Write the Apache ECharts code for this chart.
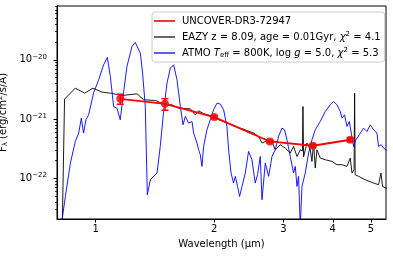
<!DOCTYPE html>
<html><head><meta charset="utf-8">
<script src="https://cdn.jsdelivr.net/npm/echarts/dist/echarts.min.js"></script>
<style>html,body{margin:0;padding:0;background:#fff}#c{width:393px;height:257px}</style>
</head><body><div id="c"></div>
<script>
// Photometry (UNCOVER-DR3-72947)
const photWave = [1.155, 1.50, 2.00, 2.77, 3.56, 4.43];
const photFlux = [2.2e-21, 1.81e-21, 1.08e-21, 4.19e-22, 3.55e-22, 4.48e-22];
const photErr  = [0.42e-21, 0.40e-21, 0.06e-21, 0.02e-21, 0.02e-21, 0.03e-21];

// EAZY template
const eazyWave = [0.822, 0.834, 0.888, 0.938, 0.985, 1.038, 1.090, 1.167, 1.274, 1.324, 1.418, 1.503, 1.563, 1.624, 1.740, 1.791, 1.826, 1.880, 1.955, 2.033, 2.155, 2.329, 2.518, 2.593, 2.645, 2.696, 2.804, 2.858, 2.943, 3.030, 3.120, 3.181, 3.245, 3.308, 3.350, 3.360, 3.372, 3.392, 3.440, 3.508, 3.542, 3.575, 3.611, 3.647, 3.718, 3.828, 3.981, 4.100, 4.221, 4.346, 4.431, 4.476, 4.530, 4.545, 4.560, 4.651, 4.836, 5.030, 5.227, 5.301, 5.350, 5.458, 5.60];
const eazyFlux = [1.0e-23, 2.17e-21, 3.33e-21, 2.74e-21, 3.33e-21, 2.85e-21, 2.74e-21, 2.50e-21, 2.67e-21, 2.12e-21, 2.06e-21, 1.74e-21, 1.74e-21, 1.53e-21, 1.49e-21, 1.18e-21, 1.38e-21, 1.23e-21, 1.14e-21, 1.01e-21, 8.56e-22, 7.05e-22, 5.81e-22, 5.09e-22, 3.94e-22, 4.19e-22, 4.19e-22, 3.03e-22, 3.69e-22, 3.24e-22, 2.67e-22, 3.45e-22, 2.34e-22, 3.03e-22, 2.9e-22, 1.63e-21, 2.3e-22, 2.20e-22, 3.94e-22, 3.03e-22, 1.93e-22, 3.94e-22, 1.49e-22, 3.03e-22, 2.20e-22, 2.06e-22, 1.93e-22, 1.70e-22, 1.70e-22, 1.59e-22, 2.20e-22, 1.23e-22, 1.4e-22, 2.74e-21, 1.15e-22, 1.08e-22, 9.47e-23, 8.53e-23, 7.80e-23, 1.23e-22, 7.30e-23, 6.86e-23, 6.7e-23];

// ATMO model
const atmoWave = [0.810, 0.838, 0.863, 0.888, 0.906, 0.920, 0.932, 0.945, 0.960, 0.988, 1.018, 1.048, 1.071, 1.090, 1.111, 1.133, 1.155, 1.174, 1.201, 1.237, 1.261, 1.299, 1.316, 1.337, 1.353, 1.377, 1.404, 1.432, 1.459, 1.488, 1.518, 1.548, 1.578, 1.609, 1.641, 1.667, 1.690, 1.722, 1.757, 1.773, 1.809, 1.826, 1.844, 1.862, 1.880, 1.917, 1.955, 1.993, 2.033, 2.073, 2.113, 2.155, 2.176, 2.207, 2.240, 2.263, 2.293, 2.320, 2.353, 2.399, 2.445, 2.494, 2.542, 2.577, 2.618, 2.645, 2.696, 2.749, 2.804, 2.858, 2.914, 2.972, 3.017, 3.060, 3.120, 3.181, 3.213, 3.245, 3.275, 3.308, 3.341, 3.406, 3.473, 3.542, 3.611, 3.718, 3.828, 3.941, 4.018, 4.100, 4.179, 4.221, 4.285, 4.346, 4.405, 4.457, 4.517, 4.580, 4.670, 4.788, 4.884, 4.980, 5.077, 5.179, 5.227, 5.310, 5.383, 5.458, 5.60];
const atmoFlux = [1.0e-23, 4.95e-23, 1.81e-22, 4.19e-22, 5.81e-22, 1.04e-21, 5.81e-22, 9.73e-22, 1.18e-21, 2.74e-21, 4.60e-21, 8.24e-21, 1.10e-20, 5.23e-21, 1.63e-21, 1.53e-21, 9.73e-22, 2.40e-21, 7.71e-21, 1.68e-20, 1.97e-20, 1.30e-20, 5.97e-21, 1.63e-21, 5.29e-23, 9.47e-23, 1.08e-22, 1.23e-22, 3.45e-22, 1.34e-21, 4.05e-21, 7.24e-21, 8.24e-21, 4.60e-21, 1.63e-21, 8.01e-22, 1.11e-21, 8.56e-22, 9.11e-22, 5.81e-22, 3.94e-22, 3.03e-22, 2.50e-22, 1.59e-22, 3.45e-22, 6.60e-22, 9.73e-22, 1.44e-21, 1.86e-21, 1.79e-21, 1.44e-21, 7.50e-22, 3.03e-22, 1.23e-22, 8.33e-23, 1.08e-22, 7.30e-23, 4.95e-23, 7.30e-23, 1.23e-22, 2.84e-22, 2.06e-22, 8.33e-23, 1.15e-22, 2.34e-22, 4.36e-23, 1.81e-22, 1.08e-22, 2.34e-22, 3.03e-22, 5.09e-22, 7.05e-22, 6.60e-22, 4.48e-22, 2.34e-22, 1.23e-22, 1.59e-22, 7.30e-23, 1.08e-22, 1.5e-23, 7.30e-23, 1.23e-22, 2.67e-22, 4.48e-22, 6.60e-22, 9.11e-22, 1.34e-21, 1.74e-21, 1.98e-21, 1.74e-21, 1.34e-21, 1.04e-21, 1.18e-21, 7.50e-22, 9.11e-22, 5.81e-22, 3.45e-22, 4.48e-22, 5.43e-22, 7.05e-22, 6.18e-22, 8.01e-22, 6.60e-22, 5.81e-22, 3.45e-22, 3.69e-22, 3.24e-22, 3.03e-22, 2.8e-22];

// Axis ticks
const xTicks = [1, 2, 3, 4, 5];
const yMajorTicks = [1e-22, 1e-21, 1e-20];
const yMinorTicks = [3e-23, 4e-23, 5e-23, 6e-23, 7e-23, 8e-23, 9e-23,
  2e-22, 3e-22, 4e-22, 5e-22, 6e-22, 7e-22, 8e-22, 9e-22,
  2e-21, 3e-21, 4e-21, 5e-21, 6e-21, 7e-21, 8e-21, 9e-21,
  2e-20, 3e-20, 4e-20, 5e-20, 6e-20, 7e-20, 8e-20];

const seriesNames = ['UNCOVER-DR3-72947', 'EAZY z = 8.09, age = 0.01Gyr, \u03c7\u00b2 = 4.1', 'ATMO T_eff = 800K, log g = 5.0, \u03c7\u00b2 = 5.3'];

const xMin = 0.798, xMax = 5.46, yMin = 2.06e-23, yMax = 8.1e-20;

const zip = (a, b) => a.map((v, i) => [v, b[i]]);
const FONT = 'DejaVu Sans';

const chart = echarts.init(document.getElementById('c'), null, {renderer: 'canvas'});
const supSty = {fontSize: 7, fontFamily: FONT, color: '#000', padding: [0, 0, 6, 0]};
const subSty = {fontSize: 7, fontFamily: FONT, color: '#000', padding: [4, 0, 0, 0]};
const baseSty = {fontSize: 10, fontFamily: FONT, color: '#000'};
const itSty = {fontSize: 10, fontFamily: FONT, color: '#000', fontStyle: 'italic'};

chart.setOption({
  animation: false,
  grid: {left: 57, right: 7, top: 6, bottom: 38, show: true, borderColor: '#000', borderWidth: 1,
    backgroundColor: 'transparent', containLabel: false, outerBoundsMode: 'none'},
  legend: {
    data: [
      {name: seriesNames[0], icon: 'rect', itemStyle: {color: '#ff0000'}},
      {name: seriesNames[1], icon: 'rect', itemStyle: {color: '#444'}},
      {name: seriesNames[2], icon: 'rect', itemStyle: {color: '#3333ff'}}
    ],
    left: 152, top: 12,
    orient: 'vertical',
    itemWidth: 21, itemHeight: 1.6, itemGap: 3.5,
    padding: [3, 4, 3, 2],
    backgroundColor: 'rgba(255,255,255,0.85)',
    borderColor: '#ccc', borderWidth: 1, borderRadius: 3,
    textStyle: {fontSize: 10, fontFamily: FONT, color: '#000', lineHeight: 12, padding: [0, 0, 0, 2],
      rich: {a: baseSty, i: itSty, sup: supSty, sub: subSty}},
    formatter: function (name) {
      if (name === seriesNames[1]) return '{a|EAZY z = 8.09, age = 0.01Gyr, }{i|\u03c7}{sup|2}{a| = 4.1}';
      if (name === seriesNames[2]) return '{a|ATMO }{i|T}{sub|eff}{a| = 800K, log }{i|g}{a| = 5.0, }{i|\u03c7}{sup|2}{a| = 5.3}';
      return '{a|' + name + '}';
    }
  },
  xAxis: [{
    type: 'log', min: xMin, max: xMax, logBase: 10,
    name: 'Wavelength (\u00b5m)', nameLocation: 'middle', nameGap: 20,
    nameTextStyle: {fontSize: 10, fontFamily: FONT, color: '#000'},
    axisLine: {show: true, lineStyle: {color: '#000', width: 1}},
    axisTick: {show: true, inside: false, length: 3.5, customValues: xTicks, lineStyle: {color: '#000', width: 1}},
    axisLabel: {show: true, customValues: xTicks, margin: 5, fontSize: 10, fontFamily: FONT, color: '#000',
      formatter: v => String(Math.round(v))},
    splitLine: {show: false}, minorTick: {show: false}
  }],
  yAxis: [{
    type: 'log', min: yMin, max: yMax, logBase: 10,
    name: '{a|F}{sub|\u03bb}{a| (erg/cm}{sup|2}{a|/s/\u00c5)}', nameLocation: 'middle', nameGap: 44, nameRotate: 90,
    nameTextStyle: {fontSize: 10, fontFamily: FONT, color: '#000', rich: {a: baseSty, sup: supSty, sub: subSty}},
    axisLine: {show: true, lineStyle: {color: '#000', width: 1}},
    axisTick: {show: true, inside: false, length: 3.5, customValues: yMajorTicks, lineStyle: {color: '#000', width: 1}},
    axisLabel: {show: true, customValues: yMajorTicks, margin: 10, fontSize: 10, fontFamily: FONT, color: '#000',
      rich: {b: baseSty, s: {fontSize: 7, fontFamily: FONT, color: '#000', padding: [0, 0, 6, 0]}},
      formatter: v => '{b|10}{s|\u2212' + Math.abs(Math.round(Math.log10(v))) + '}'},
    splitLine: {show: false}
  }, {
    type: 'log', min: yMin, max: yMax, logBase: 10, position: 'left',
    axisLine: {show: false},
    axisTick: {show: true, inside: false, length: 2, customValues: yMinorTicks, lineStyle: {color: '#000', width: 0.8}},
    axisLabel: {show: false},
    splitLine: {show: false}
  }],
  series: [
    {
      name: seriesNames[1], type: 'line', data: zip(eazyWave, eazyFlux),
      showSymbol: false, symbol: 'none', lineStyle: {color: '#000', width: 0.9}, itemStyle: {color: '#000'}, z: 2, clip: true
    },
    {
      name: seriesNames[2], type: 'line', data: zip(atmoWave, atmoFlux),
      showSymbol: false, symbol: 'none', lineStyle: {color: '#0000ff', width: 0.9}, itemStyle: {color: '#0000ff'}, z: 3, clip: true
    },
    {
      name: seriesNames[0], type: 'line', data: zip(photWave, photFlux),
      showSymbol: false, symbol: 'none', lineStyle: {color: '#ff0000', width: 1.8}, itemStyle: {color: '#ff0000'}, z: 4
    },
    {
      name: 'err', type: 'custom', z: 5,
      data: photWave.map((w, i) => [w, photFlux[i], photErr[i]]),
      encode: {x: 0, y: 1},
      renderItem: function (params, api) {
        const x = api.value(0), y = api.value(1), e = api.value(2);
        const t = api.coord([x, y + e]);
        const b = api.coord([x, y - e]);
        const hw = 3.5;
        const st = {stroke: '#ff0000', lineWidth: 1.5};
        return {type: 'group', children: [
          {type: 'line', shape: {x1: t[0], y1: t[1], x2: b[0], y2: b[1]}, style: st},
          {type: 'line', shape: {x1: t[0] - hw, y1: t[1], x2: t[0] + hw, y2: t[1]}, style: st},
          {type: 'line', shape: {x1: b[0] - hw, y1: b[1], x2: b[0] + hw, y2: b[1]}, style: st}
        ]};
      }
    },
    {
      name: 'phot', type: 'scatter', data: zip(photWave, photFlux), symbol: 'circle', symbolSize: 8,
      itemStyle: {color: '#ff0000'}, z: 6
    }
  ]
});
</script></body></html>
